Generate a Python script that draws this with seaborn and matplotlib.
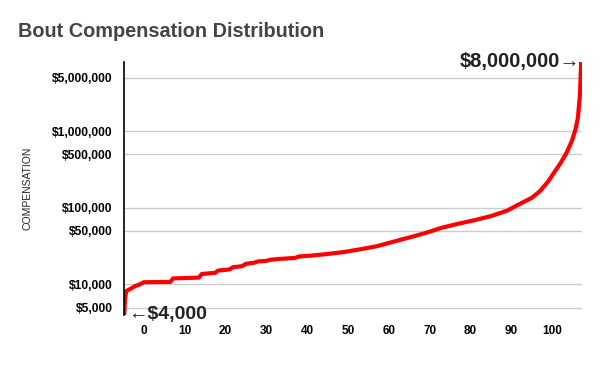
import numpy as np
import pandas as pd
import matplotlib
matplotlib.use("Agg")
import matplotlib.pyplot as plt
import seaborn as sns
from matplotlib.ticker import FixedLocator, FixedFormatter, NullLocator

# position vs compensation
pct = [-4.8, -4.6, -4.3, -3.2, -2.0, -1.0, 0.0, 6.5, 7.2, 13.5, 14.2, 17.5, 18.2,
       21, 21.8, 24, 25, 27, 28, 30, 31, 33, 37, 38, 41, 45, 49, 53, 57, 61,
       65, 69, 73, 77, 81, 85, 89, 92, 95, 97, 99, 100.5, 102, 103.5, 104.8,
       105.7, 106.3, 106.8, 107.1]
compensation = [4000, 6500, 8200, 8800, 9600, 10000, 10700, 10800, 12000, 12300,
                13700, 14200, 15200, 15700, 16800, 17300, 18600, 19200, 20000,
                20300, 21000, 21500, 22200, 23200, 23800, 25000, 26500, 28800,
                31500, 36000, 41000, 47000, 55000, 62000, 69000, 78000, 92000,
                112000, 135000, 165000, 220000, 290000, 380000, 520000, 740000,
                1050000, 1500000, 3000000, 8000000]

y_ticks = [5000, 10000, 50000, 100000, 500000, 1000000, 5000000]
y_labels = ["$5,000", "$10,000", "$50,000", "$100,000", "$500,000",
            "$1,000,000", "$5,000,000"]
x_ticks = [0, 10, 20, 30, 40, 50, 60, 70, 80, 90, 100]

df = pd.DataFrame({"pct": pct, "compensation": compensation})

sns.set_style("white")
plt.rcParams["font.family"] = ["Liberation Sans", "DejaVu Sans"]

fig = plt.figure(figsize=(6, 3.71), dpi=100)
ax = fig.add_axes([0.207, 0.151, 0.763, 0.682])

sns.lineplot(data=df, x="pct", y="compensation", ax=ax, color="#ff0000",
             linewidth=3.0, sort=False, solid_capstyle="butt")

ax.set_yscale("log")
ax.set_ylim(4000, 8000000)
ax.set_xlim(-4.8, 107.3)

ax.yaxis.set_major_locator(FixedLocator(y_ticks))
ax.yaxis.set_major_formatter(FixedFormatter(y_labels))
ax.yaxis.set_minor_locator(NullLocator())
ax.set_xticks(x_ticks)
ax.set_xticklabels([str(v) for v in x_ticks])

ax.grid(axis="y", color="#cccccc", linewidth=1)
ax.grid(axis="x", visible=False)
for s in ["top", "right", "bottom"]:
    ax.spines[s].set_visible(False)
ax.spines["left"].set_color("black")
ax.spines["left"].set_linewidth(1.2)

ax.tick_params(axis="y", direction="inout", length=8.6, width=1, color="black",
               pad=4, labelsize=8.7)
ax.tick_params(axis="x", length=0, pad=7, labelsize=8.5)
for lab in ax.get_xticklabels() + ax.get_yticklabels():
    lab.set_fontweight("bold")
    lab.set_color("black")

ax.set_xlabel("")
ax.set_ylabel("COMPENSATION", fontsize=7.5, color="#222222", labelpad=14)

ax.text(106.9, 8000000, "$8,000,000\u2192", ha="right", va="center",
        fontsize=14.5, fontweight="bold", color="#222222", clip_on=False)
ax.text(-3.9, 4000, "\u2190$4,000", ha="left", va="center",
        fontsize=14, fontweight="bold", color="#222222", clip_on=False)

fig.text(0.03, 0.915, "Bout Compensation Distribution", fontsize=14.3,
         fontweight="bold", color="#444444", ha="left", va="center")

fig.savefig("out.png", dpi=100)
